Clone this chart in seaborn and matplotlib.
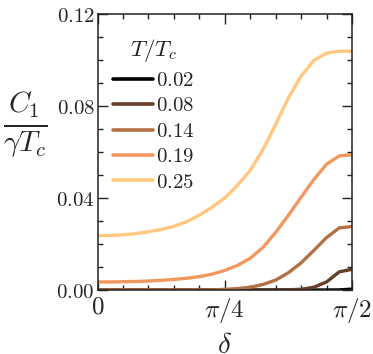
import numpy as np
import pandas as pd
import matplotlib
matplotlib.use("Agg")
import matplotlib.pyplot as plt
import seaborn as sns

# ---- data ----
# delta as a fraction of pi/2
frac = [0.00, 0.05, 0.10, 0.15, 0.20, 0.25, 0.30, 0.35, 0.40, 0.45, 0.50,
        0.55, 0.60, 0.65, 0.70, 0.75, 0.80, 0.85, 0.90, 0.95, 1.00]
temps = ["0.02", "0.08", "0.14", "0.19", "0.25"]
c_002 = [0.0, 0.0, 0.0, 0.0, 0.0, 0.0, 0.0, 0.0, 0.0, 0.0, 0.0,
         0.0, 0.0, 0.0, 0.0, 0.0, 0.0, 0.0, 0.0, 0.00005, 0.0004]
c_008 = [0.0, 0.0, 0.0, 0.0, 0.0, 0.0, 0.0, 0.0, 0.0, 0.0, 0.0,
         0.0, 0.0, 0.0, 0.0, 0.0001, 0.0003, 0.0012, 0.0035, 0.0079, 0.0090]
c_014 = [0.0, 0.0, 0.0, 0.0, 0.0, 0.0, 0.0, 0.0, 0.0, 0.0, 0.0003,
         0.0006, 0.0012, 0.0024, 0.0043, 0.0075, 0.0118, 0.0172, 0.0228, 0.0270, 0.0276]
c_019 = [0.0035, 0.0035, 0.0036, 0.0037, 0.0039, 0.0042, 0.0046, 0.0051, 0.0058, 0.0069, 0.0085,
         0.0107, 0.0138, 0.0185, 0.0250, 0.0325, 0.0403, 0.0480, 0.0547, 0.0583, 0.0588]
c_025 = [0.0236, 0.0237, 0.0240, 0.0245, 0.0253, 0.0263, 0.0277, 0.0297, 0.0325, 0.0360, 0.0400,
         0.0455, 0.0520, 0.0610, 0.0720, 0.0835, 0.0930, 0.0998, 0.1030, 0.1038, 0.1038]
colors = ["#000000", "#663f28", "#b37047", "#f29760", "#ffc77f"]

ytick_vals = [0.00, 0.04, 0.08, 0.12]
ytick_labels = ["0.00", "0.04", "0.08", "0.12"]
xtick_frac = [0.0, 0.5, 1.0]
xtick_labels = [r"$0$", r"$\pi/4$", r"$\pi/2$"]

series = [c_002, c_008, c_014, c_019, c_025]
rows = []
for t, vals in zip(temps, series):
    for f, v in zip(frac, vals):
        rows.append({"delta": f * np.pi / 2, "C": v, "T": "$" + t + "$"})
df = pd.DataFrame(rows)

sns.set_theme(style="ticks")
plt.rcParams["mathtext.fontset"] = "cm"
plt.rcParams["font.family"] = ["DejaVu Serif"]

fig = plt.figure(figsize=(3.73, 3.54), dpi=100)
ax = fig.add_axes([97.5 / 373, (354 - 290) / 354, 254.5 / 373, 276 / 354])

sns.lineplot(data=df, x="delta", y="C", hue="T", palette=colors,
             linewidth=2.4, ax=ax, legend=True)

ax.set_xlim(0, np.pi / 2)
ax.set_ylim(0, 0.12)
ax.set_xticks([f * np.pi / 2 for f in xtick_frac])
ax.set_xticklabels(xtick_labels, fontsize=18)
ax.set_xticks(np.arange(0, 11) * np.pi / 20, minor=True)
ax.set_yticks(ytick_vals)
ax.set_yticklabels(["$" + s + "$" for s in ytick_labels], fontsize=15)
ax.set_yticks(np.arange(0, 13) * 0.01, minor=True)

ax.tick_params(which="both", direction="in", top=True, right=True,
               color="#222222", width=1.0)
ax.tick_params(which="major", length=7)
ax.tick_params(which="minor", length=3.5)
ax.tick_params(axis="y", which="major", pad=2)
ax.tick_params(axis="x", which="major", pad=4)
for s in ax.spines.values():
    s.set_linewidth(1.1)
    s.set_color("#222222")

ax.set_xlabel(r"$\delta$", fontsize=21, va="center_baseline")
ax.xaxis.set_label_coords(0.5, -0.188)
ax.set_ylabel(r"$\frac{C_1}{\gamma T_c}$", fontsize=30, rotation=0,
              ha="center", va="center")
ax.yaxis.set_label_coords(-0.285, 0.60)

leg = ax.legend(title=r"$T/T_c$", loc="upper left",
                bbox_to_anchor=(0.061, 0.915), frameon=False,
                fontsize=15, title_fontsize=16.5, handlelength=1.9,
                handletextpad=0.14, labelspacing=0.31, borderpad=0,
                borderaxespad=0)
for line in leg.get_lines():
    line.set_linewidth(2.6)

fig.savefig("out.png", dpi=100)
